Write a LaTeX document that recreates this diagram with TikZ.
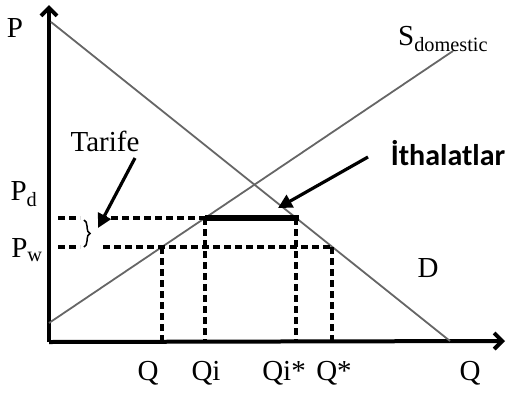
\documentclass[tikz,border=0pt]{standalone}
\usepackage{fontspec}
\setmainfont{Liberation Serif}
\newfontfamily\calib{Carlito}
\usetikzlibrary{arrows.meta,decorations.pathreplacing}
\begin{document}
\begin{tikzpicture}[x=1pt,y=-1pt,
 axis/.style={line width=4pt,-{Straight Barb[length=8pt,width=16pt]}},
 curve/.style={line width=1.8pt,draw=black!60},
 dsh/.style={line width=3.2pt,dash pattern=on 7pt off 4pt},
 lbl/.style={font=\fontsize{29}{31}\selectfont,inner sep=0pt},
 pointer/.style={line width=3.2pt,-{Triangle[length=14pt,width=14pt]}}]
\useasboundingbox (0,0) rectangle (516,394);
% axes
\coordinate (O) at (49,342);
\coordinate (Ytop) at (49,5);
\coordinate (Xend) at (505,341);
\draw[axis] (O) -- (Ytop);
\draw[axis] (O) -- (Xend);
% curves
\coordinate (D1) at (51,22);
\coordinate (D2) at (450,341);
\coordinate (S1) at (49,323);
\coordinate (S2) at (453,51);
\draw[curve] (D1) -- (D2);
\draw[curve] (S1) -- (S2);
% key points
\coordinate (Pd0) at (58,218);
\coordinate (Pd1) at (80,218);
\coordinate (Pd2) at (100,218);
\coordinate (Pw0) at (58,247);
\coordinate (Pw1) at (80,247);
\coordinate (Pw2) at (103,247);
\coordinate (Aq) at (162,247);
\coordinate (Aqi) at (205,218);
\coordinate (Aqis) at (296,218);
\coordinate (Aqs) at (332,247);
\coordinate (Bq) at (162,341);
\coordinate (Bqi) at (205,341);
\coordinate (Bqis) at (296,341);
\coordinate (Bqs) at (332,341);
\coordinate (Tend) at (299,218);
% dashed
\draw[dsh] (Pd0) -- (Pd1);
\draw[dsh] (Pd2) -- (Aqi);
\draw[dsh] (Pw0) -- (Pw1);
\draw[dsh] (Pw2) -- (Aqs);
\draw[dsh] (Aq) -- (Bq);
\draw[dsh] (Aqi) -- (Bqi);
\draw[dsh] (Aqis) -- (Bqis);
\draw[dsh] (Aqs) -- (Bqs);
% imports segment
\draw[line width=5.5pt] (Aqi) -- (Tend);
% brace
\coordinate (Br1) at (84,220);
\coordinate (Br2) at (84,247);
\draw[line width=1.5pt,decorate,decoration={brace,amplitude=6pt}] (Br1) -- (Br2);
% labels
\node[lbl] (P) at (15,28) {P};
\node[lbl] (Pd) at (24,194) {P\textsubscript{d}};
\node[lbl] (Pw) at (27,250) {P\textsubscript{w}};
\node[lbl] (tarife) at (105,141) {Tarife};
\node[font=\calib\bfseries\fontsize{30}{32}\selectfont,inner sep=0pt] (ith) at (448,153) {İthalatlar};
\node[lbl,anchor=west] (S) at (398,39) {S\textsubscript{domestic}};
\node[lbl] (D) at (428,268) {D};
\node[lbl] (lq) at (148,373) {Q};
\node[lbl] (lqi) at (206,373) {Qi};
\node[lbl] (lqis) at (284,373) {Qi*};
\node[lbl] (lqs) at (334,373) {Q*};
\node[lbl] (lq2) at (470,373) {Q};
% pointers
\coordinate (Ta) at (135,158);
\coordinate (Tb) at (98,228);
\coordinate (Ia) at (368,157);
\coordinate (Ib) at (278,208);
\draw[pointer] (Ta) -- (Tb);
\draw[pointer] (Ia) -- (Ib);
\end{tikzpicture}
\end{document}
